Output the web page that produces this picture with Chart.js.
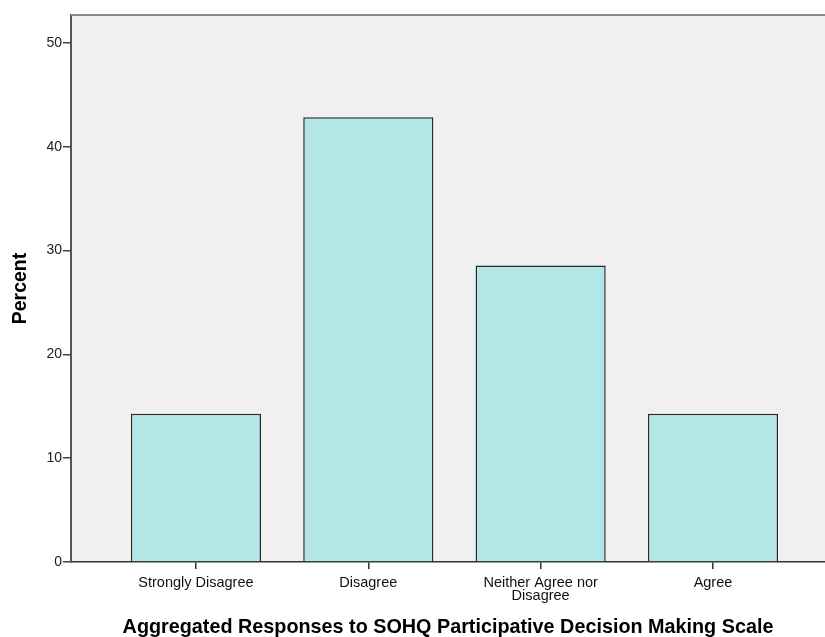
<!DOCTYPE html>
<html>
<head>
<meta charset="utf-8">
<script src="https://cdn.jsdelivr.net/npm/chart.js@4/dist/chart.umd.min.js"></script>
<style>
  html, body { margin: 0; padding: 0; background: #fff; }
  #wrap { width: 825px; height: 637px; }
</style>
</head>
<body>
<div id="wrap"><canvas id="chart" width="825" height="637"></canvas></div>
<script>
// Response categories and their share (percent)
const categories = ['Strongly Disagree', 'Disagree', ['Neither Agree nor', 'Disagree'], 'Agree'];
const percents = [14.29, 42.86, 28.57, 14.29];
const yTicks = [0, 10, 20, 30, 40, 50];

const FONT = '"Liberation Sans", Arial, sans-serif';

// grey plot background + top frame line, like the SPSS output
const plotFrame = {
  id: 'plotFrame',
  beforeDraw(chart) {
    const { ctx, chartArea: a } = chart;
    ctx.save();
    ctx.fillStyle = '#f0f0f0';
    ctx.fillRect(a.left, a.top, a.right - a.left, a.bottom - a.top);
    ctx.restore();
  },
  afterDraw(chart) {
    const { ctx, chartArea: a } = chart;
    ctx.save();
    ctx.strokeStyle = '#8a8a8a';
    ctx.lineWidth = 2;
    ctx.beginPath();
    ctx.moveTo(a.left, a.top);
    ctx.lineTo(a.right, a.top);
    ctx.stroke();
    ctx.restore();
  }
};

new Chart(document.getElementById('chart'), {
  type: 'bar',
  data: {
    datasets: [{
      data: percents.map((v, i) => ({ x: i, y: v })),
      backgroundColor: '#b3e6e6',
      borderColor: '#2b2b2b',
      borderWidth: 1.5,
      borderSkipped: 'bottom',
      barPercentage: 1,
      categoryPercentage: 0.755
    }]
  },
  options: {
    responsive: false,
    animation: false,
    layout: { padding: { top: 15, right: 0, bottom: 0, left: 0 } },
    plugins: { legend: { display: false }, tooltip: { enabled: false } },
    scales: {
      x: {
        type: 'linear',
        offset: false,
        min: -0.725,
        max: 3.65,
        afterBuildTicks: s => { s.ticks = categories.map((c, i) => ({ value: i })); },
        afterFit: s => { s.height = 75; },
        grid: { offset: false, drawOnChartArea: false, drawTicks: true, tickLength: 7, color: '#333', lineWidth: 1.5 },
        border: { color: '#333', width: 1.5 },
        ticks: {
          color: '#111',
          font: { family: FONT, size: 14.5, lineHeight: 0.92 },
          padding: 7,
          maxRotation: 0,
          autoSkip: false,
          callback: v => categories[v]
        },
        title: {
          display: true,
          text: 'Aggregated Responses to SOHQ Participative Decision Making Scale',
          color: '#000',
          font: { family: FONT, size: 19.8, weight: 'bold', lineHeight: 1 },
          padding: { top: 0, bottom: 0 }
        }
      },
      y: {
        min: 0,
        max: 52.7,
        afterBuildTicks: s => { s.ticks = yTicks.map(v => ({ value: v })); },
        afterFit: s => { s.width = 71; },
        grid: { drawOnChartArea: false, drawTicks: true, tickLength: 8, color: '#444', lineWidth: 1.5 },
        border: { color: '#555', width: 2 },
        ticks: { color: '#222', font: { family: FONT, size: 14 }, padding: 1 },
        title: {
          display: true,
          text: 'Percent',
          color: '#000',
          font: { family: FONT, size: 19.5, weight: 'bold' },
          padding: { top: 9, bottom: 0 }
        }
      }
    }
  },
  plugins: [plotFrame]
});
</script>
</body>
</html>
